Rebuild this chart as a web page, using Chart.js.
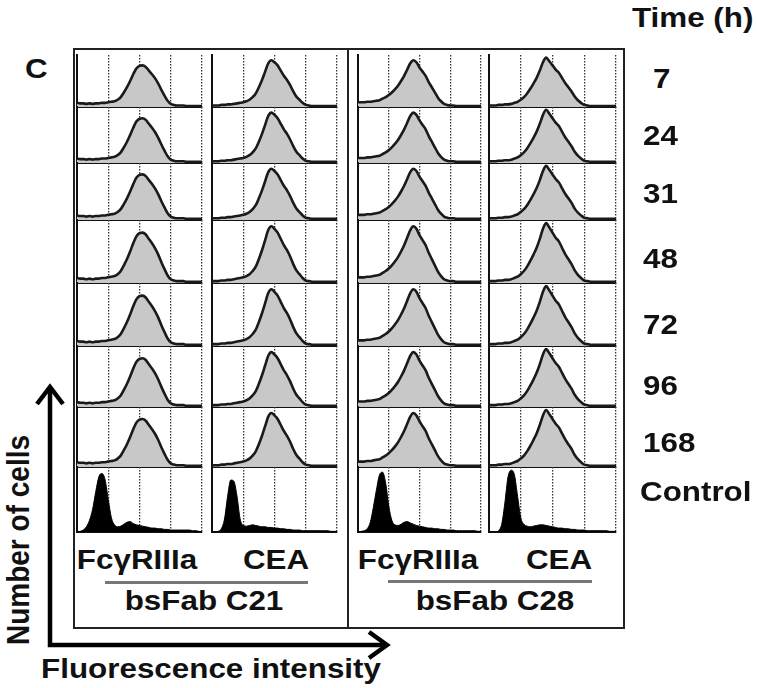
<!DOCTYPE html>
<html>
<head>
<meta charset="utf-8">
<script src="https://cdn.jsdelivr.net/npm/chart.js@4"></script>
<style>
  html, body { margin: 0; padding: 0; background: #fff; }
  #fig { position: relative; width: 757px; height: 688px; overflow: hidden; background: #fff; }
  #fig canvas { position: absolute; }
  .txt { position: absolute; font-family: "Liberation Sans", Arial, sans-serif; font-weight: bold;
         font-size: 28px; line-height: 28px; white-space: nowrap; color: #111; }
  .box { position: absolute; box-sizing: border-box; }
</style>
</head>
<body>
<div id="fig"></div>
<script>
/* ---- data ---- */
const timeRows = ['7', '24', '31', '48', '72', '96', '168', 'Control'];
const markers = ['FcγRIIIa', 'CEA', 'FcγRIIIa', 'CEA'];
const constructs = ['bsFab C21', 'bsFab C28'];

// log10 fluorescence bins, 10^0 .. 10^4
const logBins = [0.0, 0.1, 0.2, 0.3, 0.4, 0.5, 0.6, 0.7, 0.8, 0.9,
                 1.0, 1.1, 1.2, 1.3, 1.4, 1.5, 1.6, 1.7, 1.8, 1.9,
                 2.0, 2.1, 2.2, 2.3, 2.4, 2.5, 2.6, 2.7, 2.8, 2.9,
                 3.0, 3.1, 3.2, 3.3, 3.4, 3.5, 3.6, 3.7, 3.8, 3.9, 4.0];

// stained cells (% of panel height), one profile per column
const fcC21  = [8, 7, 7, 6, 7, 6, 7, 7, 8, 8, 9, 10, 11, 14, 19, 28, 38, 50, 63, 74, 79, 80, 77, 70, 63, 55, 45, 33, 22, 12, 6, 4, 3, 3, 3, 2, 2, 2, 2, 2, 2];
const ceaC21 = [3, 3, 3, 4, 4, 5, 5, 6, 7, 8, 9, 11, 14, 19, 26, 38, 52, 68, 84, 90, 86, 80, 70, 60, 52, 42, 30, 20, 14, 8, 4, 3, 2, 2, 2, 2, 2, 2, 2, 2, 2];
const fcC28  = [9, 9, 9, 10, 10, 11, 12, 13, 16, 19, 23, 28, 34, 41, 50, 60, 72, 84, 90, 86, 76, 68, 60, 48, 38, 28, 18, 11, 6, 4, 3, 3, 2, 2, 2, 2, 2, 2, 2, 2, 2];
const ceaC28 = [3, 3, 3, 4, 4, 5, 5, 6, 8, 10, 14, 19, 26, 35, 45, 56, 70, 86, 95, 88, 80, 72, 66, 56, 46, 38, 30, 20, 13, 8, 4, 3, 2, 2, 2, 2, 2, 2, 2, 2, 2];

// unstained controls
const ctrlFcC21  = [0, 1, 3, 8, 18, 35, 62, 85, 90, 80, 50, 22, 11, 8, 9, 12, 15, 16, 13, 11, 10, 9, 8, 7, 6, 6, 5, 5, 4, 4, 3, 3, 3, 3, 3, 3, 3, 2, 2, 1, 0];
const ctrlCeaC21 = [0, 0, 1, 5, 20, 55, 80, 78, 55, 20, 10, 9, 10, 11, 10, 9, 8, 8, 7, 7, 6, 6, 5, 5, 4, 4, 3, 3, 3, 2, 2, 2, 2, 2, 2, 2, 2, 2, 1, 1, 1];
const ctrlFcC28  = [0, 1, 2, 5, 15, 38, 65, 88, 92, 75, 40, 18, 11, 10, 12, 15, 16, 14, 12, 10, 9, 8, 7, 6, 6, 5, 5, 4, 4, 3, 3, 3, 2, 2, 2, 2, 2, 2, 2, 1, 1];
const ctrlCeaC28 = [0, 0, 0, 2, 12, 45, 85, 95, 88, 55, 22, 12, 9, 8, 9, 10, 11, 11, 10, 9, 8, 7, 6, 6, 5, 5, 4, 4, 3, 3, 3, 2, 2, 2, 2, 2, 2, 2, 1, 1, 1];

const stained = [fcC21, ceaC21, fcC28, ceaC28];
const controls = [ctrlFcC21, ctrlCeaC21, ctrlFcC28, ctrlCeaC28];

/* ---- layout ---- */
const fig = document.getElementById('fig');
const colLeft  = [77, 212, 358, 489];
const colRight = [202, 337, 481, 616];
const firstTop = 55;
const baselines = [107, 163, 220, 283, 346, 407, 467, 532];
const rowLabelY = [79, 136, 194, 259, 325, 386, 443, 492];
const PAD = 3;
const STRETCH = 1.12;

function addText(txt, x, y, align) {
  const d = document.createElement('div');
  d.className = 'txt';
  d.textContent = txt;
  d.style.left = x + 'px';
  d.style.top = y + 'px';
  if (align === 'left') {
    d.style.transformOrigin = 'left center';
    d.style.transform = 'translateY(-50%) scaleX(' + STRETCH + ')';
  } else if (align === 'vertical') {
    d.style.transform = 'translate(-50%,-50%) rotate(-90deg) scaleY(' + STRETCH + ')';
  } else {
    d.style.transform = 'translate(-50%,-50%) scaleX(' + STRETCH + ')';
  }
  fig.appendChild(d);
}

function addBox(l, t, w, h, css) {
  const d = document.createElement('div');
  d.className = 'box';
  d.style.left = l + 'px'; d.style.top = t + 'px';
  d.style.width = w + 'px'; d.style.height = h + 'px';
  Object.assign(d.style, css);
  fig.appendChild(d);
}

// panel frames
addBox(73, 48, 552, 581, { border: '2px solid #222' });
addBox(347, 48, 2, 581, { background: '#222' });

function panelOptions() {
  return {
    responsive: false,
    animation: false,
    events: [],
    layout: { padding: PAD },
    plugins: { legend: { display: false }, tooltip: { enabled: false } },
    elements: { point: { radius: 0 } },
    scales: {
      x: {
        type: 'linear', min: 0, max: 4, z: 1,
        ticks: { display: false, stepSize: 1 },
        grid: { drawTicks: false, lineWidth: 1.3,
                color: c => (c.tick && c.tick.value === 0) ? 'rgba(0,0,0,0)' : '#333' },
        border: { display: true, color: '#111', width: 2, dash: [1.5, 1.5] },
      },
      y: {
        min: 0, max: 100, z: 1,
        ticks: { display: false },
        grid: { display: false, drawTicks: false },
        border: { display: true, color: '#111', width: 2 },
      },
    },
  };
}

function drawPanel(row, col) {
  const isCtrl = row === timeRows.length - 1;
  const values = isCtrl ? controls[col] : stained[col];
  const top = row === 0 ? firstTop : baselines[row - 1];
  const bottom = baselines[row];
  const cv = document.createElement('canvas');
  const w = colRight[col] - colLeft[col] + 2 * PAD;
  const h = bottom - top + 2 * PAD;
  cv.width = w; cv.height = h;
  cv.style.left = (colLeft[col] - PAD) + 'px';
  cv.style.top = (top - PAD) + 'px';
  fig.appendChild(cv);
  new Chart(cv.getContext('2d'), {
    type: 'line',
    data: {
      datasets: [{
        data: logBins.map((b, i) => ({ x: b, y: values[i] })),
        fill: 'origin',
        backgroundColor: isCtrl ? '#000' : '#c8c8c8',
        borderColor: isCtrl ? '#000' : '#1a1a1a',
        borderWidth: isCtrl ? 1 : 2.6,
        cubicInterpolationMode: 'monotone',
      }],
    },
    options: panelOptions(),
  });
}

for (let r = 0; r < timeRows.length; r++) {
  for (let c = 0; c < 4; c++) drawPanel(r, c);
}

// labels
addText('C', 25, 69, 'left');
addText('Time (h)', 632, 18, 'left');
timeRows.forEach((t, i) => {
  const x = t === 'Control' ? 640 : (t.length === 1 ? 653 : 643);
  addText(t, x, rowLabelY[i], 'left');
});

const markerX = [137, 276, 418, 559];
markers.forEach((m, i) => addText(m, markerX[i], 560));
const constructX = [204, 495];
constructs.forEach((m, i) => addText(m, constructX[i], 601));
addBox(105, 581, 203, 2.5, { background: '#777' });
addBox(388, 580, 204, 2.5, { background: '#777' });

addText('Fluorescence intensity', 211, 669);
addText('Number of cells', 19, 540, 'vertical');

// axis arrows
const svgNS = 'http://www.w3.org/2000/svg';
const svg = document.createElementNS(svgNS, 'svg');
svg.setAttribute('width', 757); svg.setAttribute('height', 688);
svg.style.position = 'absolute'; svg.style.left = '0'; svg.style.top = '0';
svg.innerHTML =
  '<g stroke="#000" stroke-width="4.5" fill="none" stroke-linecap="butt" stroke-linejoin="miter">' +
  '<polyline points="50,388 50,645 386,645"/>' +
  '<polyline points="37,404 50,387 63,404"/>' +
  '<polyline points="369,632 387,645 369,658"/>' +
  '</g>';
fig.appendChild(svg);
</script>
</body>
</html>
